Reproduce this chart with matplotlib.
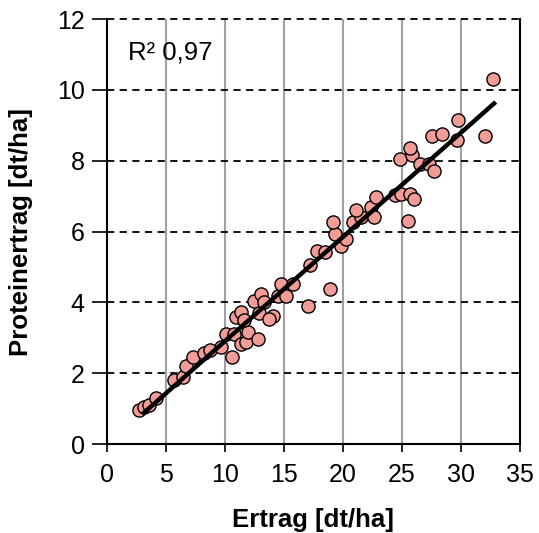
import numpy as np
import matplotlib
matplotlib.use("Agg")
import matplotlib.pyplot as plt

plt.rcParams['font.family'] = ['Liberation Sans', 'DejaVu Sans']

ertrag = [2.72, 3.14, 3.57, 4.19, 5.69, 6.40, 6.69, 7.25, 8.24, 8.75, 9.66, 10.6,
          10.08, 10.79, 11.36, 11.78, 11.92, 12.77, 10.93, 11.36, 11.64, 12.9,
          12.49, 13.06, 13.34, 14.05, 13.76, 14.47, 15.18, 14.76, 15.75, 17.0,
          18.86, 17.2, 17.8, 18.44, 19.85, 20.28, 19.29, 19.14, 20.84, 21.55,
          21.13, 22.4, 22.6, 22.83, 24.38, 24.95, 25.66, 26.0, 25.5, 24.86,
          25.88, 25.71, 26.5, 27.3, 27.7, 27.58, 28.43, 29.63, 29.77, 32.03, 32.74]
protein = [0.96, 1.05, 1.10, 1.31, 1.80, 1.88, 2.21, 2.46, 2.56, 2.65, 2.75, 2.45,
           3.12, 3.12, 2.82, 2.87, 3.15, 2.96, 3.60, 3.72, 3.50, 3.69,
           4.05, 4.24, 4.00, 3.62, 3.53, 4.19, 4.19, 4.52, 4.52, 3.91,
           4.38, 5.05, 5.46, 5.41, 5.60, 5.79, 5.94, 6.26, 6.26, 6.41,
           6.61, 6.69, 6.41, 6.97, 7.02, 7.05, 7.07, 6.93, 6.31, 8.04,
           8.15, 8.37, 7.92, 7.90, 7.70, 8.69, 8.75, 8.58, 9.16, 8.69, 10.30]
x_ticks = [0, 5, 10, 15, 20, 25, 30, 35]
y_ticks = [0, 2, 4, 6, 8, 10, 12]
r2_text = "R² 0,97"

fig = plt.figure(figsize=(5.39, 5.33), dpi=100)
ax = fig.add_axes([107/539, 89/533, 413/539, 425/533])

x = np.array(ertrag)
y = np.array(protein)
slope, intercept = np.polyfit(x, y, 1)

ax.scatter(x, y, s=90, facecolor='#F29C97', edgecolor='black', linewidth=1.0, zorder=3)
xl = np.array([x.min() + 0.3, x.max() + 0.2])
ax.plot(xl, slope * xl + intercept, color='black', lw=3.2, zorder=4, solid_capstyle='butt')

ax.set_xlim(0, 35)
ax.set_ylim(0, 12)
ax.set_xticks(x_ticks)
ax.set_yticks(y_ticks)
ax.tick_params(axis='x', direction='out', length=6, width=1.2, labelsize=18, pad=8, color='black')
ax.tick_params(axis='y', direction='out', length=11, width=1.2, labelsize=18, pad=5, color='black')

for v in x_ticks[1:-1]:
    ax.axvline(v, color='#a0a0a0', lw=1.5, zorder=1)
for v in y_ticks[1:]:
    ax.axhline(v, color='black', lw=1.3, ls=(0, (4, 3)), zorder=1, clip_on=False)

ax.spines['top'].set_visible(False)
ax.spines['right'].set_linewidth(1.5)
ax.spines['left'].set_linewidth(1.5)
ax.spines['bottom'].set_linewidth(1.5)

ax.text(0.05, 0.921, r2_text, transform=ax.transAxes, fontsize=18.5, va='center', ha='left')

ax.set_xlabel("Ertrag [dt/ha]", fontsize=18.5, fontweight='bold')
ax.set_ylabel("Proteinertrag [dt/ha]", fontsize=18.5, fontweight='bold')
ax.xaxis.set_label_coords(0.5, -0.15)
ax.yaxis.set_label_coords(-0.18, 0.5)

fig.savefig("out.png", dpi=100)
